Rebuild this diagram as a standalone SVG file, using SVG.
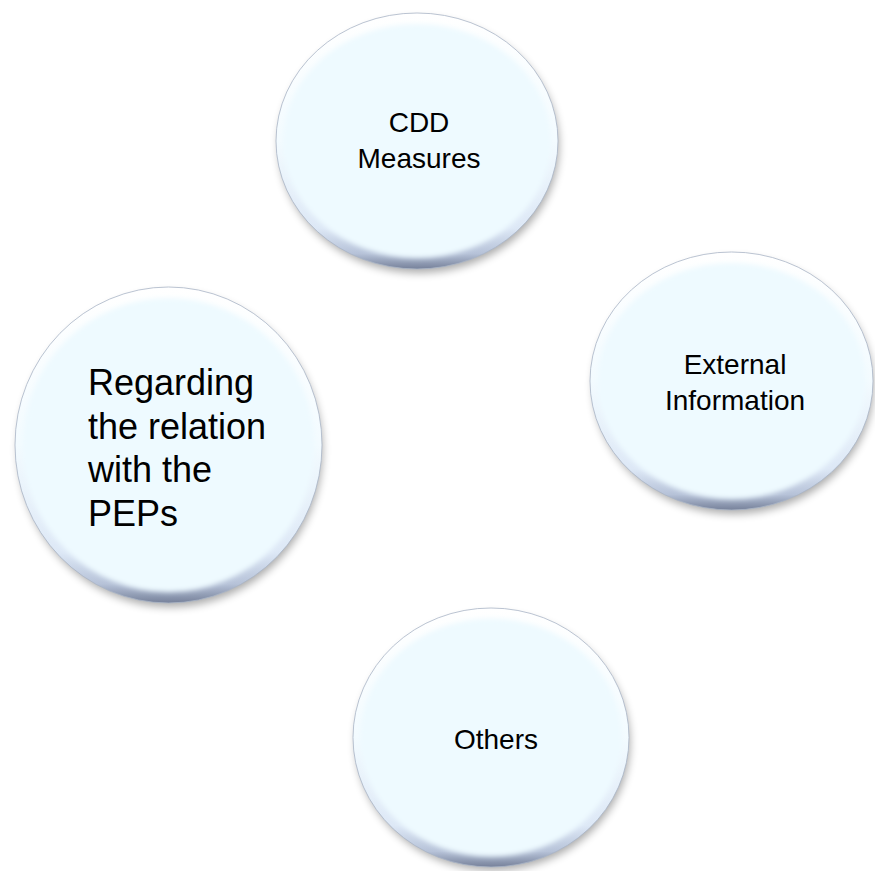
<svg xmlns="http://www.w3.org/2000/svg" width="875" height="871" viewBox="0 0 875 871">
  <defs>
    <linearGradient id="bevel" x1="0" y1="0" x2="0" y2="1">
      <stop offset="0" stop-color="#ffffff"/>
      <stop offset="0.5" stop-color="#f3fbff"/>
      <stop offset="0.84" stop-color="#dde8f6"/>
      <stop offset="0.94" stop-color="#b6c2d8"/>
      <stop offset="1" stop-color="#76819a"/>
    </linearGradient>
    <filter id="shadow" x="-20%" y="-20%" width="140%" height="140%">
      <feGaussianBlur stdDeviation="4"/>
    </filter>
    <filter id="soft" x="-10%" y="-10%" width="120%" height="120%">
      <feGaussianBlur stdDeviation="2.5"/>
    </filter>
  </defs>
  <style>
    .shadow { fill: #000000; opacity: 0.33; filter: url(#shadow); }
    .outer { fill: url(#bevel); stroke: #a9b5c6; stroke-width: 0.8; }
    .inner { fill: #eefaff; filter: url(#soft); }
    .label { font-family: "Liberation Sans", Arial, sans-serif; font-size: 28px; fill: #000000; }
    .big { font-size: 36px; }
  </style>
  <rect width="875" height="871" fill="#ffffff"/>
  <g id="connectors"></g>

  <g id="node-cdd">
    <ellipse class="shadow" cx="419" cy="146" rx="140" ry="127"/>
    <ellipse class="outer" cx="417" cy="141" rx="141" ry="128"/>
    <ellipse class="inner" cx="417" cy="141" rx="134" ry="117"/>
    <text class="label" text-anchor="middle" x="419" y="132">CDD</text>
    <text class="label" text-anchor="middle" x="419" y="168">Measures</text>
  </g>

  <g id="node-peps">
    <ellipse class="shadow" cx="170.5" cy="450" rx="152" ry="157"/>
    <ellipse class="outer" cx="168.5" cy="445" rx="153.5" ry="158"/>
    <ellipse class="inner" cx="168.5" cy="445" rx="146" ry="147"/>
    <text class="label big" x="88" y="395">Regarding</text>
    <text class="label big" x="88" y="439">the relation</text>
    <text class="label big" x="88" y="482">with the</text>
    <text class="label big" x="88" y="526">PEPs</text>
  </g>

  <g id="node-external">
    <ellipse class="shadow" cx="733.5" cy="386" rx="140" ry="128"/>
    <ellipse class="outer" cx="731.5" cy="381" rx="141.5" ry="129"/>
    <ellipse class="inner" cx="731.5" cy="381" rx="134" ry="118"/>
    <text class="label" text-anchor="middle" x="735" y="374">External</text>
    <text class="label" text-anchor="middle" x="735" y="410">Information</text>
  </g>

  <g id="node-others">
    <ellipse class="shadow" cx="493" cy="742.5" rx="137" ry="128"/>
    <ellipse class="outer" cx="491" cy="737.5" rx="138" ry="129.5"/>
    <ellipse class="inner" cx="491" cy="737.5" rx="131" ry="119"/>
    <text class="label" text-anchor="middle" x="496" y="749">Others</text>
  </g>
</svg>
